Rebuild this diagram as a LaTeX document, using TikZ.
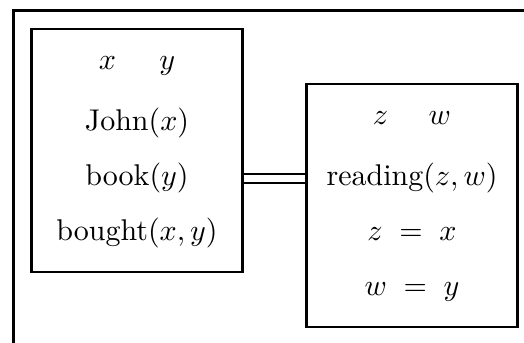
\documentclass[tikz,border=0pt]{standalone}
\usetikzlibrary{calc}
\begin{document}
\begin{tikzpicture}[x=0.33333pt,y=-0.33333pt,
  drsbox/.style={draw,line width=0.8pt,minimum width=70.3pt,minimum height=81pt,inner sep=0pt},
  cond/.style={anchor=base,inner sep=0pt},
  frame/.style={line width=1pt},
  merge/.style={double,double distance=2.5pt,line width=0.7pt}]
\useasboundingbox (0,0) rectangle (524,343);
% outer frame (only top and left edges visible)
\coordinate (ftr) at (524,11);
\coordinate (ftl) at (13,11);
\coordinate (fbl) at (13,343);
\draw[frame] (ftr) -- (ftl) -- (fbl);
% boxes
\node[drsbox] (L) at (137,150.5) {};
\node[drsbox] (R) at (412,205.5) {};
% left box contents
\node[cond] (lu) at (137,70) {$x\hspace{14.5pt}y$};
\node[cond] (l1) at (137,130.5) {John$(x)$};
\node[cond] (l2) at (137,185.5) {book$(y)$};
\node[cond] (l3) at (137,240.5) {bought$(x,y)$};
% right box contents
\node[cond] (ru) at (412,125) {$z\hspace{13.5pt}w$};
\node[cond] (r1) at (412,185.5) {reading$(z,w)$};
\node[cond] (r2) at (412,240.5) {$z\mkern5mu=\mkern5mu x$};
\node[cond] (r3) at (412,295.5) {$w\mkern5mu=\mkern5mu y$};
% merge connector
\draw[merge] ($(L.east)+(0,28)$) -- ($(R.west|-L.east)+(0,28)$);
\end{tikzpicture}
\end{document}
